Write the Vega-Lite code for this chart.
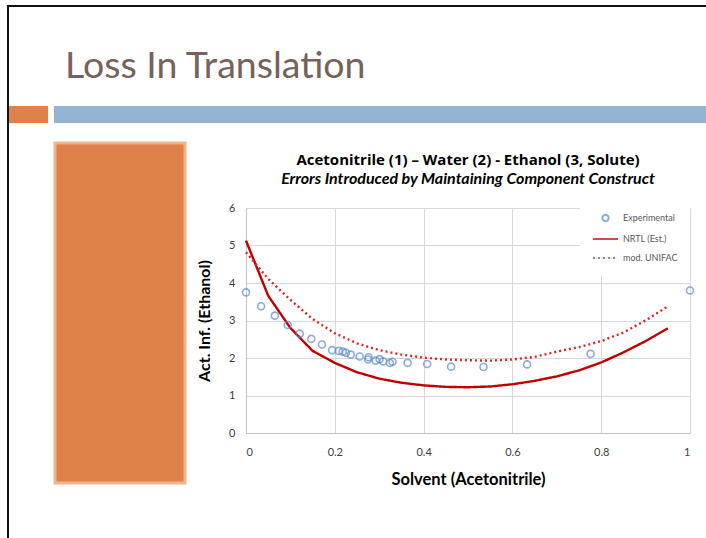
{
  "$schema": "https://vega.github.io/schema/vega-lite/v6.json",
  "padding": {"left": 7, "top": 5, "right": 0, "bottom": 0},
  "background": "white",
  "config": {"font": "Lato", "view": {"stroke": null}},
  "datasets": {
    "curves": [
      {"series": "Experimental", "x": 0.0, "y": 3.75},
      {"series": "Experimental", "x": 0.034, "y": 3.38},
      {"series": "Experimental", "x": 0.065, "y": 3.13},
      {"series": "Experimental", "x": 0.094, "y": 2.88},
      {"series": "Experimental", "x": 0.121, "y": 2.65},
      {"series": "Experimental", "x": 0.147, "y": 2.51},
      {"series": "Experimental", "x": 0.171, "y": 2.36},
      {"series": "Experimental", "x": 0.194, "y": 2.21},
      {"series": "Experimental", "x": 0.209, "y": 2.19},
      {"series": "Experimental", "x": 0.218, "y": 2.17},
      {"series": "Experimental", "x": 0.225, "y": 2.14},
      {"series": "Experimental", "x": 0.236, "y": 2.09},
      {"series": "Experimental", "x": 0.256, "y": 2.04},
      {"series": "Experimental", "x": 0.276, "y": 2.02},
      {"series": "Experimental", "x": 0.275, "y": 1.96},
      {"series": "Experimental", "x": 0.292, "y": 1.93},
      {"series": "Experimental", "x": 0.301, "y": 1.97},
      {"series": "Experimental", "x": 0.309, "y": 1.91},
      {"series": "Experimental", "x": 0.324, "y": 1.87},
      {"series": "Experimental", "x": 0.330, "y": 1.90},
      {"series": "Experimental", "x": 0.364, "y": 1.87},
      {"series": "Experimental", "x": 0.408, "y": 1.84},
      {"series": "Experimental", "x": 0.462, "y": 1.77},
      {"series": "Experimental", "x": 0.535, "y": 1.76},
      {"series": "Experimental", "x": 0.633, "y": 1.83},
      {"series": "Experimental", "x": 0.776, "y": 2.11},
      {"series": "Experimental", "x": 1.0, "y": 3.80},
      {"series": "NRTL (Est.)", "x": 0.0, "y": 5.13},
      {"series": "NRTL (Est.)", "x": 0.05, "y": 3.66},
      {"series": "NRTL (Est.)", "x": 0.1, "y": 2.80},
      {"series": "NRTL (Est.)", "x": 0.15, "y": 2.19},
      {"series": "NRTL (Est.)", "x": 0.2, "y": 1.87},
      {"series": "NRTL (Est.)", "x": 0.25, "y": 1.62},
      {"series": "NRTL (Est.)", "x": 0.3, "y": 1.45},
      {"series": "NRTL (Est.)", "x": 0.35, "y": 1.34},
      {"series": "NRTL (Est.)", "x": 0.4, "y": 1.27},
      {"series": "NRTL (Est.)", "x": 0.45, "y": 1.23},
      {"series": "NRTL (Est.)", "x": 0.5, "y": 1.22},
      {"series": "NRTL (Est.)", "x": 0.55, "y": 1.24},
      {"series": "NRTL (Est.)", "x": 0.6, "y": 1.30},
      {"series": "NRTL (Est.)", "x": 0.65, "y": 1.39},
      {"series": "NRTL (Est.)", "x": 0.7, "y": 1.51},
      {"series": "NRTL (Est.)", "x": 0.75, "y": 1.67},
      {"series": "NRTL (Est.)", "x": 0.8, "y": 1.88},
      {"series": "NRTL (Est.)", "x": 0.85, "y": 2.15},
      {"series": "NRTL (Est.)", "x": 0.9, "y": 2.45},
      {"series": "NRTL (Est.)", "x": 0.95, "y": 2.79},
      {"series": "mod. UNIFAC", "x": 0.0, "y": 4.82},
      {"series": "mod. UNIFAC", "x": 0.05, "y": 4.11},
      {"series": "mod. UNIFAC", "x": 0.1, "y": 3.55},
      {"series": "mod. UNIFAC", "x": 0.15, "y": 3.04},
      {"series": "mod. UNIFAC", "x": 0.2, "y": 2.66},
      {"series": "mod. UNIFAC", "x": 0.25, "y": 2.39},
      {"series": "mod. UNIFAC", "x": 0.3, "y": 2.21},
      {"series": "mod. UNIFAC", "x": 0.35, "y": 2.09},
      {"series": "mod. UNIFAC", "x": 0.4, "y": 2.01},
      {"series": "mod. UNIFAC", "x": 0.45, "y": 1.96},
      {"series": "mod. UNIFAC", "x": 0.5, "y": 1.94},
      {"series": "mod. UNIFAC", "x": 0.55, "y": 1.93},
      {"series": "mod. UNIFAC", "x": 0.6, "y": 1.96},
      {"series": "mod. UNIFAC", "x": 0.65, "y": 2.03},
      {"series": "mod. UNIFAC", "x": 0.7, "y": 2.17},
      {"series": "mod. UNIFAC", "x": 0.75, "y": 2.29},
      {"series": "mod. UNIFAC", "x": 0.8, "y": 2.45},
      {"series": "mod. UNIFAC", "x": 0.85, "y": 2.68},
      {"series": "mod. UNIFAC", "x": 0.9, "y": 3.00},
      {"series": "mod. UNIFAC", "x": 0.95, "y": 3.38}
    ]
  },
  "spacing": 0,
  "resolve": {"scale": {"color": "independent", "shape": "independent", "strokeDash": "independent"}, "legend": {"color": "independent", "shape": "independent", "strokeDash": "independent"}},
  "hconcat": [
    {"width": 2, "height": 533, "data": {"values": []}, "mark": "point", "encoding": {}, "view": {"fill": "#111111", "stroke": null}},
    {
      "spacing": 40,
      "resolve": {"scale": {"color": "independent", "shape": "independent", "strokeDash": "independent"}, "legend": {"color": "independent", "shape": "independent", "strokeDash": "independent"}},
      "vconcat": [
        {"width": 697, "height": 2, "data": {"values": []}, "mark": "point", "encoding": {}, "view": {"fill": "#111111", "stroke": null}},
        {
          "title": {"text": "Loss In Translation", "anchor": "start", "frame": "group", "dx": 56, "offset": -9, "baseline": "alphabetic", "fontSize": 37.5, "font": "Lato", "fontWeight": "normal", "color": "#76625b"},
          "spacing": 18,
          "resolve": {"scale": {"color": "independent", "shape": "independent", "strokeDash": "independent"}, "legend": {"color": "independent", "shape": "independent", "strokeDash": "independent"}},
          "vconcat": [
            {
              "spacing": 6,
              "hconcat": [
                {"width": 39, "height": 17, "data": {"values": []}, "mark": "point", "encoding": {}, "view": {"fill": "#df8148", "stroke": null}},
                {"width": 652, "height": 17, "data": {"values": []}, "mark": "point", "encoding": {}, "view": {"fill": "#94b4d2", "stroke": null}}
              ]
            },
            {
              "spacing": 9,
              "resolve": {"scale": {"color": "independent", "shape": "independent", "strokeDash": "independent"}, "legend": {"color": "independent", "shape": "independent", "strokeDash": "independent"}},
              "hconcat": [
                {"width": 35, "height": 1, "data": {"values": []}, "mark": "point", "encoding": {}, "view": {"fill": null, "stroke": null}},
                {"width": 130, "height": 340, "data": {"values": []}, "mark": "point", "encoding": {}, "view": {"fill": "#de8148", "stroke": "#efb48e", "strokeWidth": 3}},
                {
                  "spacing": 8,
                  "resolve": {"scale": {"color": "independent", "shape": "independent", "strokeDash": "independent"}, "legend": {"color": "independent", "shape": "independent", "strokeDash": "independent"}},
                  "vconcat": [
                    {"width": 1, "height": 1, "data": {"values": []}, "mark": "point", "encoding": {}, "view": {"fill": null, "stroke": null}},
                    {
                      "width": 444,
                      "height": 225,
                      "view": {"stroke": null},
                      "data": {"name": "curves"},
                      "title": {
                        "text": "Acetonitrile (1) – Water (2) - Ethanol (3, Solute)",
                        "subtitle": "Errors Introduced by Maintaining Component Construct",
                        "fontSize": 15, "fontWeight": "bold", "color": "#000000", "font": "Open Sans",
                        "subtitleFontSize": 16, "subtitleFontStyle": "italic", "subtitleFontWeight": "bold", "subtitleColor": "#000000", "subtitleFont": "Lato",
                        "subtitlePadding": 3, "offset": 6, "anchor": "middle"
                      },
                      "encoding": {
                        "x": {"field": "x", "type": "quantitative", "title": "Solvent (Acetonitrile)",
                          "scale": {"domain": [0, 1], "nice": false},
                          "axis": {"values": [0, 0.2, 0.4, 0.6, 0.8, 1], "format": "~g", "ticks": false, "labelPadding": 13, "labelFontSize": 11, "labelColor": "#404040", "titleFontSize": 16.5, "titleFontWeight": "bold", "titleColor": "#000000", "titlePadding": 14, "gridColor": "#d9d9d9", "domainColor": "#c4c4c4", "labelFont": "Lato", "titleFont": "Lato"}},
                        "y": {"field": "y", "type": "quantitative", "title": "Act. Inf. (Ethanol)",
                          "scale": {"domain": [0, 6], "nice": false},
                          "axis": {"values": [0, 1, 2, 3, 4, 5, 6], "ticks": false, "labelPadding": 11, "labelFontSize": 11, "labelColor": "#404040", "titleFontSize": 16, "titleFontWeight": "bold", "titleColor": "#000000", "titlePadding": 16, "gridColor": "#d9d9d9", "domainColor": "#c4c4c4", "labelFont": "Lato", "titleFont": "Lato"}},
                        "color": {"field": "series", "type": "nominal", "title": null,
                          "scale": {"domain": ["Experimental", "NRTL (Est.)", "mod. UNIFAC"], "range": ["#5a8ccc", "#c00000", "#d92626"]},
                          "legend": {"orient": "none", "legendX": 334, "legendY": -15.5, "padding": 12, "fillColor": "white", "strokeColor": null, "symbolSize": 625, "symbolStrokeWidth": 2, "labelFontSize": 9, "labelColor": "#595959", "labelFont": "Lato", "labelOffset": 4, "rowPadding": 0}}
                      },
                      "layer": [
                        {
                          "transform": [{"filter": "datum.series !== 'Experimental'"}],
                          "mark": {"type": "line", "strokeWidth": 2.4},
                          "encoding": {
                            "strokeDash": {"field": "series", "type": "nominal", "title": null,
                              "scale": {"domain": ["Experimental", "NRTL (Est.)", "mod. UNIFAC"], "range": [[1, 0], [1, 0], [2, 3]]},
                              "legend": {"orient": "none", "legendX": 334, "legendY": -15.5, "padding": 12, "fillColor": "white", "strokeColor": null, "symbolSize": 625, "symbolStrokeWidth": 2, "labelFontSize": 9, "labelColor": "#595959", "labelFont": "Lato", "labelOffset": 4, "rowPadding": 0}}
                          }
                        },
                        {
                          "transform": [{"filter": "datum.series === 'Experimental'"}],
                          "mark": {"type": "point", "filled": false, "size": 784, "strokeWidth": 1.6},
                          "encoding": {
                            "shape": {"field": "series", "type": "nominal", "title": null,
                              "scale": {"domain": ["Experimental", "NRTL (Est.)", "mod. UNIFAC"], "range": ["M0.25,0A0.25,0.25 0 1,1 -0.25,0A0.25,0.25 0 1,1 0.25,0Z", "M-1,0H1", "M-1,0H1"]},
                              "legend": {"orient": "none", "legendX": 334, "legendY": -15.5, "padding": 12, "fillColor": "white", "strokeColor": null, "symbolSize": 625, "symbolStrokeWidth": 2, "labelFontSize": 9, "labelColor": "#595959", "labelFont": "Lato", "labelOffset": 4, "rowPadding": 0}}
                          }
                        }
                      ]
                    }
                  ]
                }
              ]
            }
          ]
        }
      ]
    }
  ]
}
